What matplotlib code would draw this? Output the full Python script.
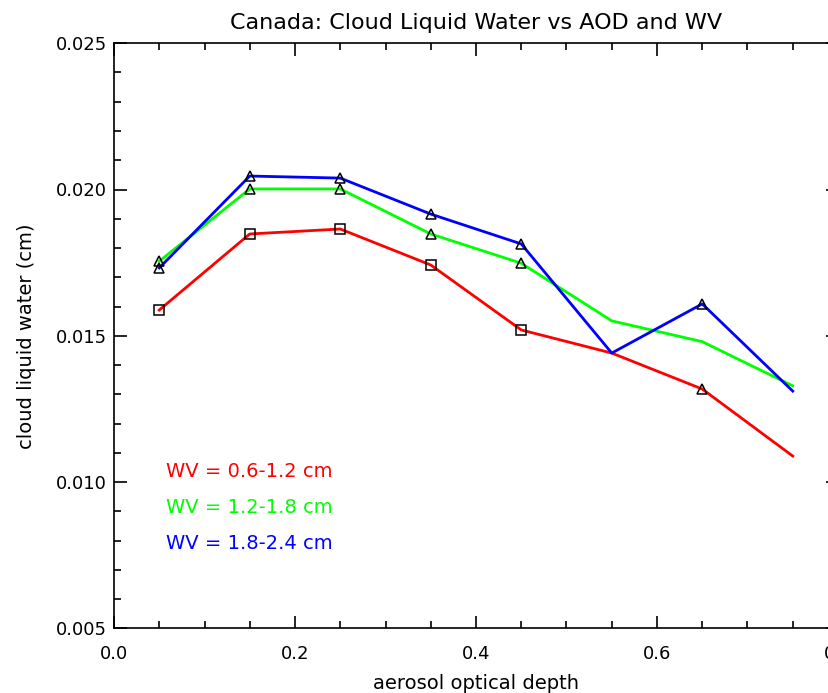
import numpy as np
import matplotlib.pyplot as plt
from matplotlib.ticker import MultipleLocator

aod = [0.05, 0.15, 0.25, 0.35, 0.45, 0.55, 0.65, 0.75]
clw_low = [0.01588, 0.01848, 0.01865, 0.01742, 0.01520, 0.01441, 0.01318, 0.01089]
clw_mid = [0.01755, 0.02002, 0.02002, 0.01848, 0.01748, 0.01551, 0.01480, 0.01329]
clw_high = [0.01732, 0.02046, 0.02039, 0.01916, 0.01814, 0.01441, 0.01609, 0.01311]

# which points carry a symbol, and which symbol
mark_low_sq = [0, 1, 2, 3, 4]
mark_low_tri = [6]
mark_mid_tri = [0, 1, 2, 3, 4]
mark_high_tri = [0, 1, 2, 3, 4, 6]

labels = ['WV = 0.6-1.2 cm', 'WV = 1.2-1.8 cm', 'WV = 1.8-2.4 cm']
colors = ['#ff0000', '#00ff00', '#0000ff']

plt.rcParams['font.family'] = 'DejaVu Sans'

fig = plt.figure(figsize=(8.29, 6.93), dpi=100)
ax = fig.add_axes([114 / 829, 64.6 / 693, 724 / 829, 585.2 / 693])

x = np.array(aod)
for y, c in zip([clw_low, clw_mid, clw_high], colors):
    ax.plot(x, y, color=c, lw=2.0, zorder=2)

def symbols(y, idx, m):
    y = np.array(y)
    ax.plot(x[idx], y[idx], ls='none', marker=m, ms=7, mfc='none', mec='black', mew=1.1, zorder=3)

symbols(clw_low, mark_low_sq, 's')
symbols(clw_low, mark_low_tri, '^')
symbols(clw_mid, mark_mid_tri, '^')
symbols(clw_high, mark_high_tri, '^')

ax.set_xlim(0.0, 0.8)
ax.set_ylim(0.005, 0.025)
ax.xaxis.set_major_locator(MultipleLocator(0.2))
ax.xaxis.set_minor_locator(MultipleLocator(0.05))
ax.yaxis.set_major_locator(MultipleLocator(0.005))
ax.yaxis.set_minor_locator(MultipleLocator(0.001))
ax.xaxis.set_major_formatter(lambda v, p: f'{v:.1f}')
ax.yaxis.set_major_formatter(lambda v, p: f'{v:.3f}')
ax.tick_params(which='both', direction='in', top=True, right=True, width=1.2, labelsize=13)
ax.tick_params(which='major', length=9)
ax.tick_params(which='minor', length=5)
ax.tick_params(axis='x', which='major', pad=12)
ax.tick_params(axis='y', which='major', pad=5)
for s in ax.spines.values():
    s.set_linewidth(1.2)

ax.set_title('Canada: Cloud Liquid Water vs AOD and WV', fontsize=16, pad=10)
ax.set_xlabel('aerosol optical depth', fontsize=14, labelpad=8)
ax.set_ylabel('cloud liquid water (cm)', fontsize=14, labelpad=14)

ty = [0.01037, 0.00912, 0.00789]
for lab, c, yy in zip(labels, colors, ty):
    ax.text(0.057, yy, lab, color=c, fontsize=14, va='center', ha='left')

fig.savefig('out.png', dpi=100)
